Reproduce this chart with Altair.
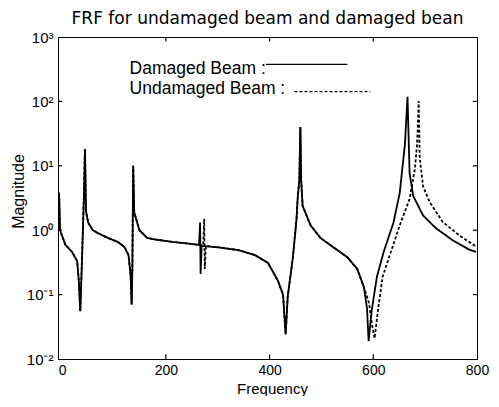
import altair as alt
import pandas as pd

# Damaged beam FRF
freq_damaged = [-6, -4, 6, 19, 29, 32, 35, 38, 42, 44, 46, 50, 59, 69, 88, 107, 120, 128,
                132, 134, 135.5, 137, 139, 149, 164, 178, 212, 244, 264, 266, 267, 269,
                302, 340, 372, 397, 416, 426, 431, 435, 445, 452, 454, 457.4, 459.4, 460.9,
                463.7, 479, 498, 525, 550, 569, 582, 588, 591, 597, 607, 620, 639, 651, 661,
                666, 670, 677, 696, 721, 753, 785, 798]
mag_damaged = [3.8, 1.0, 0.6, 0.46, 0.33, 0.17, 0.055, 0.3, 3.4, 18, 2.0, 1.32, 1.0, 0.9,
               0.76, 0.66, 0.55, 0.41, 0.2, 0.07, 0.3, 10, 1.9, 1.0, 0.76, 0.72, 0.66, 0.62,
               0.59, 1.32, 0.21, 0.57, 0.54, 0.49, 0.41, 0.31, 0.165, 0.10, 0.024, 0.093,
               0.38, 1.5, 3.0, 6.1, 40, 6.1, 2.4, 1.19, 0.76, 0.53, 0.38, 0.25, 0.13, 0.06,
               0.019, 0.057, 0.19, 0.46, 1.32, 3.8, 21.5, 118, 7.7, 3.4, 1.7, 1.07, 0.7,
               0.5, 0.46]

# Undamaged beam FRF
freq_undamaged = [-6, -4, 6, 19, 29, 32, 35, 38, 42, 44, 46, 50, 59, 69, 88, 107, 120, 128,
                  132, 134, 135.5, 137, 139, 149, 164, 178, 212, 244, 264, 272, 274, 275,
                  277, 302, 340, 372, 397, 416, 426, 431, 435, 445, 452, 454, 457.4, 459.4,
                  460.9, 463.7, 479, 498, 525, 550, 569, 582, 592, 597, 602.5, 609, 618,
                  629, 651, 670, 680, 684.5, 687.6, 689.5, 696, 709, 734, 766, 798]
mag_undamaged = [3.8, 1.0, 0.6, 0.46, 0.33, 0.17, 0.055, 0.3, 3.4, 18, 2.0, 1.32, 1.0, 0.9,
                 0.76, 0.66, 0.55, 0.41, 0.2, 0.07, 0.3, 10, 1.9, 1.0, 0.76, 0.72, 0.66,
                 0.62, 0.59, 0.58, 1.5, 0.25, 0.57, 0.54, 0.49, 0.41, 0.31, 0.165, 0.10,
                 0.024, 0.093, 0.38, 1.5, 3.0, 6.1, 40, 6.1, 2.4, 1.19, 0.76, 0.53, 0.38,
                 0.25, 0.13, 0.073, 0.036, 0.021, 0.057, 0.19, 0.35, 1.19, 3.05, 8.7, 21.8,
                 101, 13.7, 4.8, 2.7, 1.34, 0.83, 0.56]

x_domain = [-8, 800]
y_domain = [0.01, 1000]
x_ticks = [0, 200, 400, 600, 800]
y_ticks = [0.01, 0.1, 1, 10, 100, 1000]

legend_labels = ["Damaged Beam :", "Undamaged Beam :"]
legend_text_f = [130, 130]
legend_text_mag = [265, 132]
legend_line_f = [393, 448]
legend_line_f2 = [550, 594]
legend_line_mag = [377, 142]

FONT = "Liberation Sans"
W, H = 419, 322

df_d = pd.DataFrame({"f": freq_damaged, "mag": mag_damaged})
df_u = pd.DataFrame({"f": freq_undamaged, "mag": mag_undamaged})
df_lt = pd.DataFrame({"f": legend_text_f, "mag": legend_text_mag, "label": legend_labels})
df_ld = pd.DataFrame({"f": [legend_line_f[1]], "f2": [legend_line_f2[1]], "mag": [legend_line_mag[1]]})

# Solid segments: the solid legend sample and short inward ticks
inner_x = x_ticks[1:-1]
inner_y = y_ticks[1:-1]
seg_f = [legend_line_f[0]] + inner_x + inner_x + [-8] * len(inner_y) + [800] * len(inner_y)
seg_f2 = [legend_line_f2[0]] + inner_x + inner_x + [0] * len(inner_y) + [792] * len(inner_y)
seg_mag = [legend_line_mag[0]] + [0.01] * len(inner_x) + [1000] * len(inner_x) + inner_y + inner_y
seg_mag2 = ([legend_line_mag[0]] + [0.0118] * len(inner_x) + [850] * len(inner_x)
            + inner_y + inner_y)
df_seg = pd.DataFrame({"f": seg_f, "f2": seg_f2, "mag": seg_mag, "mag2": seg_mag2})

label_expr = ("datum.value >= 999 ? '10³' : datum.value >= 99 ? '10²' : "
              "datum.value >= 9 ? '10¹' : datum.value >= 0.9 ? '10⁰' : "
              "datum.value >= 0.09 ? '10⁻¹' : '10⁻²'")

x_scale = alt.Scale(domain=x_domain, nice=False, zero=False)
y_scale = alt.Scale(type="log", domain=y_domain, nice=False)

x_enc = alt.X("f:Q", scale=x_scale,
              axis=alt.Axis(values=x_ticks, title="Frequency", format="d",
                            ticks=False, domain=True, domainColor="#000000", domainWidth=1,
                            grid=False, labelFlush=False,
                            labelFont=FONT, labelFontSize=14, labelColor="black",
                            labelPadding=4,
                            titleFont=FONT, titleFontSize=15, titleFontWeight="normal",
                            titleColor="black", titleX=214, titleY=34,
                            titleAlign="center", titleBaseline="alphabetic"))
y_enc = alt.Y("mag:Q", scale=y_scale,
              axis=alt.Axis(values=y_ticks, title="Magnitude", labelExpr=label_expr,
                            ticks=False, domain=True, domainColor="#000000", domainWidth=1,
                            grid=False, labelFlush=False,
                            labelFont=FONT, labelFontSize=15, labelColor="black",
                            labelPadding=5,
                            titleFont=FONT, titleFontSize=16, titleFontWeight="normal",
                            titleColor="black", titleX=-40, titleY=154,
                            titleAlign="center", titleBaseline="middle", titleAngle=270))

x_plain = alt.X("f:Q", axis=None)
y_plain = alt.Y("mag:Q", axis=None)

damaged = alt.Chart(df_d).mark_line(color="black", strokeWidth=1.8).encode(
    x=x_enc, y=y_enc, order=alt.Order("f:Q"))
undamaged = alt.Chart(df_u).mark_line(color="black", strokeWidth=1.8, strokeDash=[3, 2]).encode(
    x=x_plain, y=y_plain, order=alt.Order("f:Q"))

# invisible layer carrying the top and right frame lines
frame_axes = alt.Chart(df_d).mark_line(opacity=0).encode(
    x=alt.X("f:Q", scale=x_scale,
            axis=alt.Axis(orient="top", values=x_ticks, labels=False, ticks=False, title="",
                          grid=False, domain=True, domainColor="#000000", domainWidth=1)),
    y=alt.Y("mag:Q", scale=y_scale,
            axis=alt.Axis(orient="right", values=y_ticks, labels=False, ticks=False, title="",
                          grid=False, domain=True, domainColor="#000000", domainWidth=1)))

segments = alt.Chart(df_seg).mark_rule(color="black", strokeWidth=1.2).encode(
    x=x_plain, x2="f2:Q", y=y_plain, y2="mag2:Q")

leg_text = alt.Chart(df_lt).mark_text(align="left", baseline="alphabetic", font=FONT,
                                       fontSize=17.5, color="black").encode(
    x=x_plain, y=y_plain, text="label:N")
leg_dash = alt.Chart(df_ld).mark_rule(color="black", strokeWidth=1.4, strokeDash=[3, 2]).encode(
    x=x_plain, x2="f2:Q", y=y_plain)

chart = alt.layer(damaged, undamaged, frame_axes, segments, leg_text, leg_dash).resolve_axis(
    x="independent", y="independent"
).properties(
    width=W, height=H,
    title=alt.Title("FRF for undamaged beam and damaged bean", font="DejaVu Sans",
                    fontSize=17, fontWeight="normal", color="black", offset=2,
                    anchor="middle"),
    autosize=alt.AutoSizeParams(type="none"),
    padding={"left": 50, "top": 29, "right": 13, "bottom": 37},
).configure_view(stroke="#000000", strokeWidth=1)

chart.save("out.html", embed_options={"renderer": "svg", "actions": False})
